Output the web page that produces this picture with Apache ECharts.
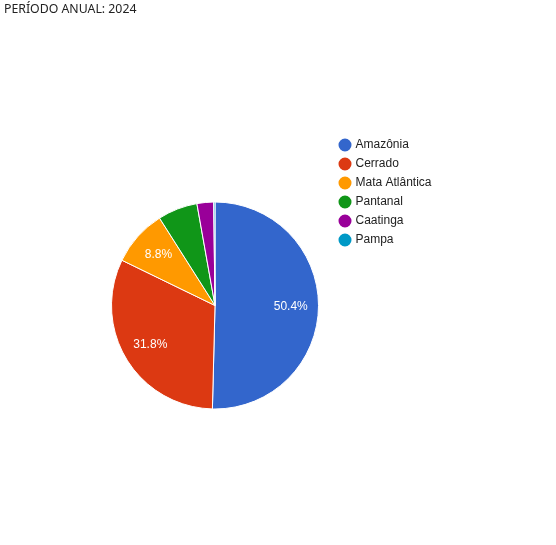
<!DOCTYPE html>
<html>
<head>
<meta charset="utf-8">
<script src="https://cdn.jsdelivr.net/npm/echarts@6/dist/echarts.min.js"></script>
<style>
html,body{margin:0;padding:0;background:#fff;}
#c{width:556px;height:545px;}
</style>
</head>
<body>
<div id="c"></div>
<script>
const titleText = 'PERÍODO ANUAL: 2024';
const categories = ['Amazônia', 'Cerrado', 'Mata Atlântica', 'Pantanal', 'Caatinga', 'Pampa'];
const values = [50.4, 31.8, 8.8, 6.2, 2.6, 0.2];
const colors = ['#3366cc', '#dc3912', '#ff9900', '#109618', '#990099', '#0099c6'];

const data = categories.map((n, i) => ({ name: n, value: values[i], itemStyle: { color: colors[i] } }));

const chart = echarts.init(document.getElementById('c'), null, { renderer: 'canvas' });
chart.setOption({
  animation: false,
  title: {
    text: titleText, left: 4, top: 3, padding: 0,
    textStyle: { fontFamily: 'Noto Sans', fontSize: 12.3, fontWeight: 'normal', color: '#222' }
  },
  legend: {
    orient: 'vertical', left: 336.5, top: 136.5, padding: 0,
    icon: 'circle', itemWidth: 15, itemHeight: 15, itemGap: 2,
    textStyle: { fontFamily: 'Liberation Sans', fontSize: 12, color: '#222', padding: [0, 0, 0, -2] },
    data: categories
  },
  series: [
    {
      type: 'pie', center: [215, 305.5], radius: 103.5, startAngle: 90, clockwise: true,
      label: { show: false }, labelLine: { show: false },
      itemStyle: { borderColor: '#fff', borderWidth: 1 },
      emphasis: { disabled: true },
      data: data
    },
    {
      type: 'pie', center: [215, 305.5], radius: [42, 103.5], startAngle: 90, clockwise: true,
      silent: true, legendHoverLink: false,
      minShowLabelAngle: 25,
      itemStyle: { color: 'rgba(0,0,0,0)', borderWidth: 0 },
      label: {
        show: true, position: 'inside', color: '#fff',
        fontFamily: 'Liberation Sans', fontSize: 12,
        formatter: p => p.value.toFixed(1) + '%'
      },
      labelLine: { show: false },
      emphasis: { disabled: true },
      data: categories.map((n, i) => ({ name: n + ' ', value: values[i] }))
    }
  ]
});
</script>
</body>
</html>
